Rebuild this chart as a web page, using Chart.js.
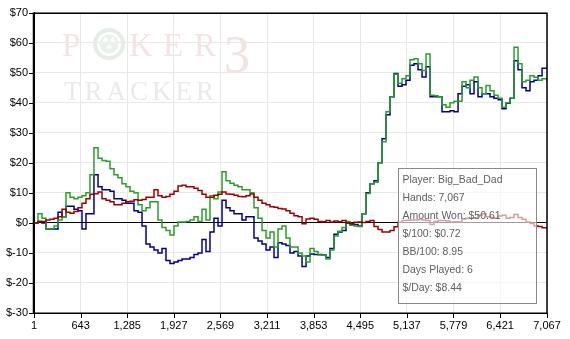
<!DOCTYPE html>
<html><head><meta charset="utf-8">
<script src="https://cdn.jsdelivr.net/npm/chart.js@4"></script>
<style>html,body{margin:0;padding:0;background:#fff}#wrap{width:570px;height:339px}</style>
</head><body><div id="wrap"><canvas id="c" width="570" height="339"></canvas></div>
<script>
const hands = [1,56,111,166,221,277,332,387,442,497,552,607,662,717,772,827,883,938,993,1048,
1103,1158,1213,1268,1323,1378,1434,1489,1544,1599,1654,1709,1764,1819,1874,1929,1985,2040,2095,2150,
2205,2260,2315,2370,2425,2480,2536,2591,2646,2701,2756,2811,2866,2921,2976,3031,3087,3142,3197,3252,
3307,3362,3417,3472,3527,3582,3638,3693,3748,3803,3858,3913,3968,4023,4078,4133,4189,4244,4299,4354,
4409,4464,4519,4574,4629,4684,4740,4795,4850,4905,4960,5015,5070,5125,5180,5235,5291,5346,5401,5456,
5511,5566,5621,5676,5731,5786,5842,5897,5952,6007,6062,6117,6172,6227,6282,6337,6393,6448,6503,6558,
6613,6668,6723,6778,6833,6888,6944,6999,7067];

const allInEV = [0,0.5,0,-2,-2,-2,3.5,2,5.5,5.5, 4.5,4,-2,3,3,16,12,11,11,10.5,
8,8,7.5,6.5,6.5,4,3.5,-1,-7,-8, -9,-10,-8.5,-12.5,-13.5,-13,-12.5,-12,-12,-11.5,
-10.5,-10,-5.5,-9.5,-3,1.5,-1,7.5,5,4, 3,3,1,2,2,-5,-6,-7,-9,-8,
-11.5,-6.6,-7,-7.5,-10,-9.5,-11,-14.5,-11,-10.4, -10.5,-10.5,-10.7,-11.5,-8.5,-3.8,-3,-2.5,0,-0.5,
-0.5,-1,3,10,13,14,20,28,36,42, 49.7,45.5,46,47.5,52.5,53,51,48.6,52,42,
42,42,37,37,37.3,37,43,45.5,46,43, 47,42,43,43,42,41.5,41,38,39.8,41.5,
54,51,45,44,47,47.5,49,51.5,52];

const amountWon = [0,3,1.5,-2,-2,-1,1,2,10,8.5, 8,8.5,9,10,16,25,21.5,20.8,20.5,18,
16,15,13,12,10.5,10,6,4,5,7, 7,1,-1.5,-2.5,-4,-1,0.3,0.3,0.5,1,
2,0.5,4.5,1,9,8,10.3,17,14,13.2, 12.5,12,11,11,10,5,1.5,-2.5,-5,-3,
-8,-2,-1,-5,-8,-8,-10,-11,-13,-8.5, -9.5,-10.7,-10.8,-12,-9,-4.4,-2.8,-1.5,0.5,-0.8,
-1,-1.2,3,9.8,13,13.5,20,27,37,42, 49.5,46.5,48,49,54.3,54.6,53,50.7,56.2,42.5,
42.3,42,39.3,38.5,40,40.5,40.5,47,45,47.5, 48.6,45,43,45.7,44,42.5,41.5,38.5,40,41.5,
58.5,53,47,47.5,49,48.5,47.5,48,47];

const nonShowdown = [0,0.5,0.5,1,1.2,1.5,2,4.5,3.5,3.2, 3.8,5,6.5,8,9.5,9.7,10.3,8,7.5,7,
6,6,6.5,7,7.2,7.7,7.5,7.8,8.5,8.5, 11,9,8.5,8.8,9.5,10.5,12.3,12.5,12,12,
11.5,10.8,9.5,8.5,8.5,9.2,9.5,10.3,9.6,9.5, 9.2,8.8,8.7,9,9.6,8.5,7.5,6.5,6,5.4,
5.2,4.8,4.6,4,3.2,2.4,2,-0.3,1.3,1.5, 1.2,0.5,0.4,0.8,0.3,0.6,0.4,0.8,0,-0.3,
0.2,0.3,0.1,0.5,0.8,-1.2,-2.2,-3,-3,-2.5, -1.3,0.2,0.8,0.9,1,1,1.1,1,0.8,-0.5,
0.5,0.8,0.8,0.6,0.3,0.4,0.3,1.3,1.5,1.5, 1.6,2.5,3,2,1.8,1.5,2.3,2.5,1.5,1.8,
2.8,1.8,1.2,0.3,-0.2,-1,-1.2,-1.6,-1.8];

const xTicks = [1,643,1285,1927,2569,3211,3853,4495,5137,5779,6421,7067];
const yMin = -30, yMax = 70, yStep = 10;
const infoLines = ['Player: Big_Bad_Dad','Hands: 7,067','Amount Won: $50.61','$/100: $0.72','BB/100: 8.95','Days Played: 6','$/Day: $8.44'];

const toPts = arr => arr.map((v,i)=>({x:hands[i], y:v}));
const FONT = '"Liberation Sans", Arial, sans-serif';

const watermark = {
  id:'watermark',
  beforeDatasetsDraw(chart){
    const ctx = chart.ctx; ctx.save();
    ctx.textBaseline = 'alphabetic';
    ctx.font = '33px "Liberation Serif", serif';
    ctx.fillStyle = 'rgb(244,228,228)';
    ctx.fillText('P', 62, 56);
    ctx.fillText('K', 129, 56);
    ctx.fillText('E', 163, 56);
    ctx.fillText('R', 194, 56);
    // O emblem
    ctx.strokeStyle = 'rgb(230,237,230)'; ctx.lineWidth = 4;
    ctx.beginPath(); ctx.arc(109, 44, 14, 0, Math.PI*2); ctx.stroke();
    ctx.fillStyle = 'rgb(234,241,234)';
    ctx.beginPath(); ctx.arc(109, 44, 9.5, 0, Math.PI*2); ctx.fill();
    ctx.fillStyle = 'rgb(250,252,250)'; ctx.font = '9px "DejaVu Sans"';
    ctx.textAlign='center';
    ctx.fillText('\u2660', 105.5, 43); ctx.fillText('\u2660', 112.5, 43); ctx.fillText('\u2660', 109, 50);
    ctx.textAlign='left';
    ctx.font = '52px "Liberation Serif", serif';
    ctx.fillStyle = 'rgb(242,226,226)';
    ctx.fillText('3', 224, 72);
    ctx.font = '27px "Liberation Serif", serif';
    ctx.fillStyle = 'rgb(234,234,234)';
    let x = 64;
    for (const ch of 'TRACKER'){ ctx.fillText(ch, x, 100); x += ctx.measureText(ch).width + 4; }
    ctx.restore();
  }
};

const frame = {
  id:'frame',
  afterDatasetsDraw(chart){
    const ctx = chart.ctx, a = chart.chartArea;
    const xs = chart.scales.x, ys = chart.scales.y;
    ctx.save();
    ctx.fillStyle = 'rgba(255,255,255,0.62)';
    ctx.fillRect(398, 168, 139, 135);
    ctx.strokeStyle = '#8a8a8a'; ctx.lineWidth = 1;
    ctx.strokeRect(398.5, 168.5, 138, 135);
    ctx.font = '11px ' + FONT;
    const w = ctx.measureText(infoLines[0]).width;
    const fs = 11 * 100 / w;
    ctx.font = fs.toFixed(2) + 'px ' + FONT;
    ctx.fillStyle = '#606060'; ctx.textBaseline = 'middle';
    infoLines.forEach((t,i)=> ctx.fillText(t, 402.5, 180.5 + i*18));
    ctx.strokeStyle = '#000'; ctx.lineWidth = 1.5;
    ctx.strokeRect(Math.round(a.left)-0.5, Math.round(a.top)+0.25, Math.round(a.right-a.left)+0.5, Math.round(a.bottom-a.top));
    ctx.lineWidth = 1;
    ctx.beginPath();
    xTicks.forEach(v=>{ const px = Math.round(xs.getPixelForValue(v))+0.5; ctx.moveTo(px, a.bottom); ctx.lineTo(px, a.bottom+5); });
    for (let v=yMin; v<=yMax; v+=yStep){ const py = Math.round(ys.getPixelForValue(v))+0.5; ctx.moveTo(a.left-5, py); ctx.lineTo(a.left, py); }
    ctx.stroke();
    ctx.restore();
  }
};

new Chart(document.getElementById('c'), {
  type:'line',
  data:{ datasets:[
    {label:'Non-showdown', data:toPts(nonShowdown), borderColor:'rgb(160,0,0)', borderWidth:1.5, stepped:true, pointRadius:0, fill:false},
    {label:'Amount won', data:toPts(amountWon), borderColor:'rgb(40,160,40)', borderWidth:1.5, stepped:true, pointRadius:0, fill:false},
    {label:'All-in EV', data:toPts(allInEV), borderColor:'rgb(0,0,150)', borderWidth:1.5, stepped:true, pointRadius:0, fill:false}
  ]},
  options:{
    responsive:false, animation:false, devicePixelRatio:1,
    layout:{padding:{top:8,right:23,left:0,bottom:0}},
    plugins:{legend:{display:false}, tooltip:{enabled:false}},
    scales:{
      x:{ type:'linear', min:1, max:7067,
        afterBuildTicks: s => { s.ticks = xTicks.map(v=>({value:v})); },
        afterFit: s => { s.height = 26; },
        ticks:{ autoSkip:false, maxRotation:0, padding:6, color:'#000', font:{family:FONT, size:11},
          callback: v => Number(v).toLocaleString('en-US') },
        grid:{ color:'#e8e8e8', drawTicks:false, lineWidth:1 },
        border:{ color:'#000', width:1 }
      },
      y:{ type:'linear', min:yMin, max:yMax,
        afterFit: s => { s.width = 34; },
        ticks:{ stepSize:yStep, padding:6, color:'#000', font:{family:FONT, size:11},
          callback: v => v < 0 ? '$-' + (-v) : '$' + v },
        grid:{ color: c => (c.tick && c.tick.value === 0) ? '#000' : '#e8e8e8', drawTicks:false, lineWidth:1 },
        border:{ color:'#000', width:1 }
      }
    }
  },
  plugins:[watermark, frame]
});
</script></body></html>
